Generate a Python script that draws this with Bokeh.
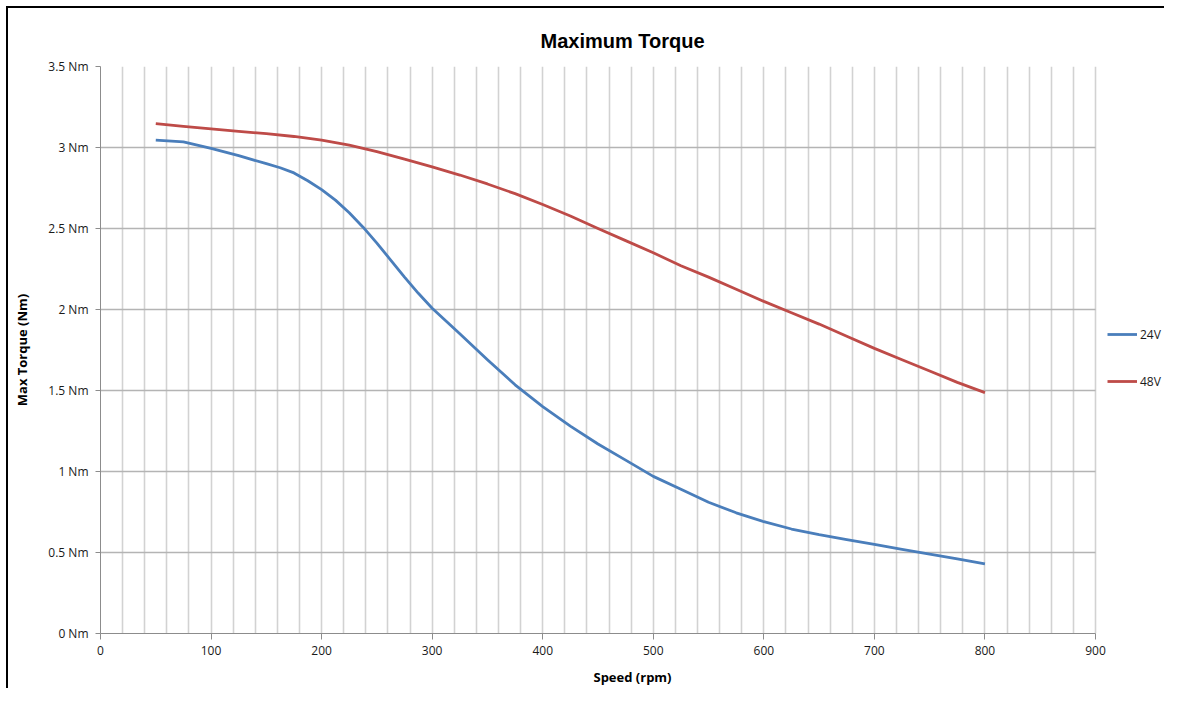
from bokeh.plotting import figure
from bokeh.models import Range1d, FixedTicker, SingleIntervalTicker, Legend, LegendItem, BoxAnnotation
from bokeh.embed import file_html
from bokeh.resources import INLINE

# ---- data ----
speed_24v = [50, 75, 100, 125, 150, 162.5, 175, 187.5, 200, 212.5, 225, 237.5, 250, 262.5,
             275, 287.5, 300, 325, 350, 375, 400, 425, 450, 475, 500, 525, 550, 575, 600,
             625, 650, 675, 700, 725, 750, 775, 800]
torque_24v = [3.045, 3.035, 2.995, 2.95, 2.90, 2.875, 2.843, 2.795, 2.74, 2.675, 2.597, 2.508,
              2.41, 2.305, 2.20, 2.10, 2.008, 1.85, 1.69, 1.535, 1.40, 1.28, 1.17, 1.07,
              0.97, 0.89, 0.81, 0.745, 0.69, 0.645, 0.61, 0.58, 0.55, 0.52, 0.49, 0.46, 0.43]
speed_48v = [50, 75, 100, 125, 150, 175, 200, 225, 250, 275, 300, 325, 350, 375, 400,
             425, 450, 475, 500, 525, 550, 575, 600, 625, 650, 675, 700, 725, 750, 775, 800]
torque_48v = [3.147, 3.13, 3.115, 3.10, 3.085, 3.068, 3.045, 3.015, 2.975, 2.928, 2.88, 2.83,
              2.775, 2.715, 2.648, 2.577, 2.50, 2.425, 2.35, 2.27, 2.20, 2.125, 2.05, 1.98,
              1.91, 1.835, 1.76, 1.69, 1.62, 1.55, 1.487]
series_names = ["24V", "48V"]

y_tick_values = [0, 0.5, 1, 1.5, 2, 2.5, 3, 3.5]
y_tick_labels = ["0 Nm", "0.5 Nm", "1 Nm", "1.5 Nm", "2 Nm", "2.5 Nm", "3 Nm", "3.5 Nm"]
x_tick_values = [0, 100, 200, 300, 400, 500, 600, 700, 800, 900]
x_tick_labels = ["0", "100", "200", "300", "400", "500", "600", "700", "800", "900"]
x_axis_max = 900
y_axis_max = 3.5

BLUE = "#4a7ebb"
RED = "#be4b48"
TICK_FONT = "Open Sans"

W, H = 1164, 688
FRAME_LEFT = 100
PLOT_W = 995  # pixel width of the 0..900 axis span
# the frame runs on to the right edge of the figure so the legend can sit inside it;
# the axis, grid and series stop at 900 rpm
x_end = x_axis_max * (W - FRAME_LEFT) / PLOT_W

p = figure(width=W, height=H, output_backend="svg", toolbar_location=None,
           x_range=Range1d(0, x_end), y_range=Range1d(0, y_axis_max),
           min_border_left=FRAME_LEFT, min_border_right=0, min_border_top=66,
           min_border_bottom=53,
           background_fill_color="white", border_fill_alpha=0)
p.outline_line_color = None
# chart-area border (top and left edges), painted behind the transparent canvas border
p.styles = {
    "vertical-align": "top",
    "background-color": "#ffffff",
    "background-image": "linear-gradient(#000000, #000000), linear-gradient(#000000, #000000)",
    "background-size": "2px 682px, 1158px 2px",
    "background-position": "6px 6px, 6px 6px",
    "background-repeat": "no-repeat",
}

# title
p.title.text = "Maximum Torque"
p.title.align = "left"
p.title.offset = 440
p.title.text_font = "Liberation Sans"
p.title.text_font_size = "20px"
p.title.text_font_style = "bold"
p.title.text_color = "#000000"
p.title.standoff = 30

# x axis
xa = p.xaxis[0]
xa.bounds = (0, x_axis_max)
xa.ticker = FixedTicker(ticks=x_tick_values)
xa.major_label_overrides = dict(zip(x_tick_values, x_tick_labels))
xa.axis_line_color = "#8c8c8c"
xa.major_tick_line_color = "#8c8c8c"
xa.major_tick_out = 6
xa.major_tick_in = 0
xa.minor_tick_line_color = None
xa.major_label_standoff = 6
xa.major_label_text_font = TICK_FONT
xa.major_label_text_font_size = "12px"
xa.major_label_text_color = "#1a1a1a"
xa.axis_label = "Speed (rpm)"
xa.axis_label_text_font = TICK_FONT
xa.axis_label_text_font_size = "13px"
xa.axis_label_text_font_style = "bold"
xa.axis_label_text_color = "#000000"
xa.axis_label_standoff = 10

# y axis
ya = p.yaxis[0]
ya.ticker = FixedTicker(ticks=y_tick_values)
ya.major_label_overrides = dict(zip(y_tick_values, y_tick_labels))
ya.axis_line_color = "#8c8c8c"
ya.major_tick_line_color = "#8c8c8c"
ya.major_tick_out = 5
ya.major_tick_in = 0
ya.minor_tick_line_color = None
ya.major_label_standoff = 7
ya.major_label_text_font = TICK_FONT
ya.major_label_text_font_size = "12px"
ya.major_label_text_color = "#1a1a1a"
ya.axis_label = "Max Torque (Nm)"
ya.axis_label_text_font = TICK_FONT
ya.axis_label_text_font_size = "13px"
ya.axis_label_text_font_style = "bold"
ya.axis_label_text_color = "#000000"
ya.axis_label_standoff = 14

# grids
xg = p.xgrid[0]
xg.ticker = SingleIntervalTicker(interval=20, num_minor_ticks=0)
xg.bounds = (0, x_axis_max)
xg.grid_line_color = "#d2d2d2"
xg.grid_line_width = 1.6
yg = p.ygrid[0]
yg.ticker = FixedTicker(ticks=y_tick_values)
yg.grid_line_color = "#b4b4b4"
yg.grid_line_width = 1.5
if "cross_bounds" in yg.properties():
    yg.cross_bounds = (0, x_axis_max)
else:
    p.add_layout(BoxAnnotation(left=x_axis_max + 1, fill_color="white", fill_alpha=1,
                               line_alpha=0, level="underlay"))

# series
r1 = p.line(speed_24v, torque_24v, line_color=BLUE, line_width=2.8, line_join="round")
r2 = p.line(speed_48v, torque_48v, line_color=RED, line_width=2.8, line_join="round")

legend = Legend(items=[LegendItem(label=series_names[0], renderers=[r1]),
                       LegendItem(label=series_names[1], renderers=[r2])],
                location=(1007, 242), orientation="vertical",
                border_line_color=None, background_fill_alpha=0,
                padding=0, margin=0, spacing=27,
                glyph_width=30, glyph_height=20, label_height=20,
                label_standoff=3,
                label_text_font=TICK_FONT, label_text_font_size="12px",
                label_text_color="#1a1a1a")
p.add_layout(legend, "center")

open("out.html", "w").write(file_html(p, INLINE))
